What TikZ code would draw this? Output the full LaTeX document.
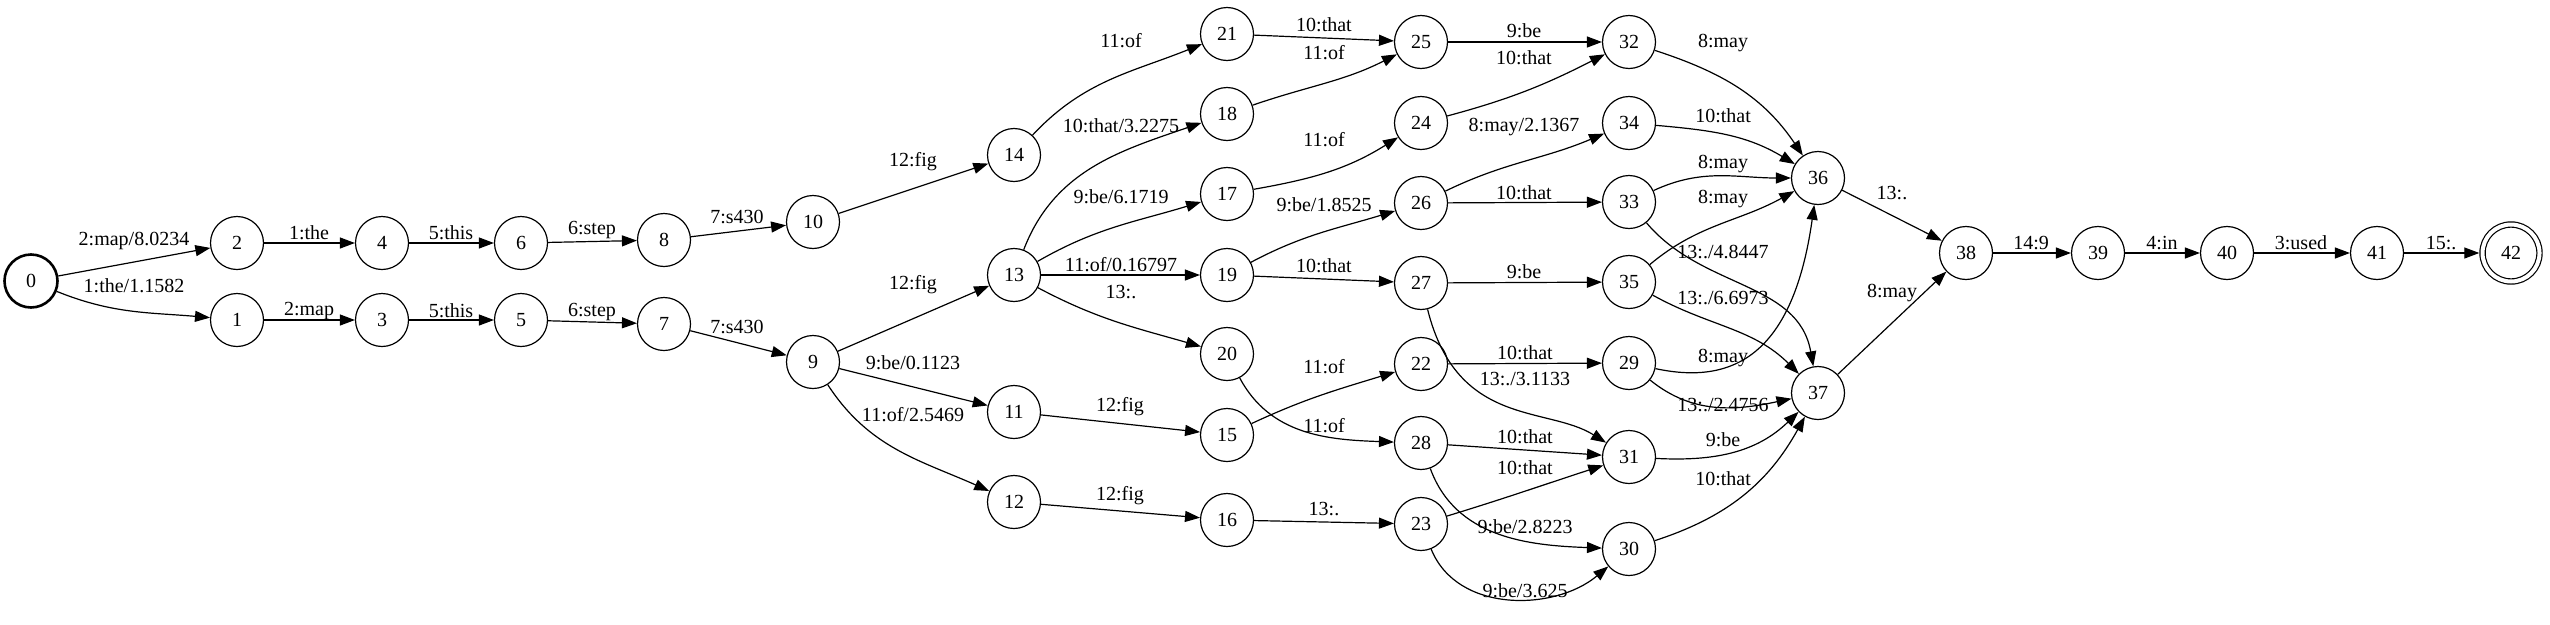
\documentclass[tikz,border=0pt]{standalone}
\usepackage{fontspec}
\setmainfont{Liberation Serif}
\usetikzlibrary{arrows.meta}
\begin{document}
\begin{tikzpicture}[x=1pt,y=1pt,
  st/.style={circle,draw,line width=1.2pt,minimum size=53pt,inner sep=0pt,font=\fontsize{20}{24}\selectfont},
  lbl/.style={inner sep=0pt,font=\fontsize{20}{24}\selectfont},
  e/.style={line width=1.2pt,-{Triangle[length=15pt,width=11pt]}}]
\useasboundingbox (0,0) rectangle (2550,-624);
% states
\node[st,line width=2.6pt] (n0) at (31,-281) {0};
\node[st] (n2) at (237,-243) {2};
\node[st] (n1) at (237,-320) {1};
\node[st] (n4) at (382,-243) {4};
\node[st] (n3) at (382,-320) {3};
\node[st] (n6) at (521,-243) {6};
\node[st] (n5) at (521,-320) {5};
\node[st] (n8) at (664,-240) {8};
\node[st] (n7) at (664,-324) {7};
\node[st] (n10) at (813,-222) {10};
\node[st] (n9) at (813,-362) {9};
\node[st] (n14) at (1014,-155) {14};
\node[st] (n13) at (1014,-275) {13};
\node[st] (n11) at (1014,-412) {11};
\node[st] (n12) at (1014,-502) {12};
\node[st] (n21) at (1227,-34) {21};
\node[st] (n18) at (1227,-114) {18};
\node[st] (n17) at (1227,-194) {17};
\node[st] (n19) at (1227,-275) {19};
\node[st] (n20) at (1227,-354) {20};
\node[st] (n15) at (1227,-435) {15};
\node[st] (n16) at (1227,-520) {16};
\node[st] (n25) at (1421,-42) {25};
\node[st] (n24) at (1421,-123) {24};
\node[st] (n26) at (1421,-203) {26};
\node[st] (n27) at (1421,-283) {27};
\node[st] (n22) at (1421,-364) {22};
\node[st] (n28) at (1421,-443) {28};
\node[st] (n23) at (1421,-524) {23};
\node[st] (n32) at (1629,-42) {32};
\node[st] (n34) at (1629,-123) {34};
\node[st] (n33) at (1629,-202) {33};
\node[st] (n35) at (1629,-282) {35};
\node[st] (n29) at (1629,-363) {29};
\node[st] (n31) at (1629,-457) {31};
\node[st] (n30) at (1629,-549) {30};
\node[st] (n36) at (1818,-178) {36};
\node[st] (n37) at (1818,-393) {37};
\node[st] (n38) at (1966,-253) {38};
\node[st] (n39) at (2098,-253) {39};
\node[st] (n40) at (2227,-253) {40};
\node[st] (n41) at (2377,-253) {41};
\node[st,double,double distance=4pt,minimum size=57pt,outer sep=3.2pt] (n42) at (2511,-253) {42};
% arcs
\draw[e] (n0) -- (n2);
\draw[e] (n0) to[out=-22,in=175] (n1);
\draw[e] (n2) -- (n4);
\draw[e] (n1) -- (n3);
\draw[e] (n4) -- (n6);
\draw[e] (n3) -- (n5);
\draw[e] (n6) -- (n8);
\draw[e] (n5) -- (n7);
\draw[e] (n8) -- (n10);
\draw[e] (n7) -- (n9);
\draw[e] (n10) -- (n14);
\draw[e] (n9) -- (n13);
\draw[e] (n9) -- (n11);
\draw[e] (n9) to[out=-57,in=156] (n12);
\draw[e] (n14) to[out=47,in=202] (n21);
\draw[e] (n13) to[out=69,in=199] (n18);
\draw[e] (n13) to[out=30,in=197] (n17);
\draw[e] (n13) -- (n19);
\draw[e] (n13) to[out=-28,in=164] (n20);
\draw[e] (n11) -- (n15);
\draw[e] (n12) -- (n16);
\draw[e] (n21) -- (n25);
\draw[e] (n18) to[out=19,in=207] (n25);
\draw[e] (n17) to[out=10,in=212] (n24);
\draw[e] (n19) to[out=28,in=197] (n26);
\draw[e] (n19) -- (n27);
\draw[e] (n15) to[out=25,in=197] (n22);
\draw[e] (n20) to[out=-62,in=178] (n28);
\draw[e] (n16) -- (n23);
\draw[e] (n25) -- (n32);
\draw[e] (n24) to[out=15,in=207] (n32);
\draw[e] (n26) to[out=26,in=203] (n34);
\draw[e] (n26) -- (n33);
\draw[e] (n27) -- (n35);
\draw[e] (n27) to[out=-76,in=148,out looseness=1.4,in looseness=0.8] (n31);
\draw[e] (n22) -- (n29);
\draw[e] (n28) -- (n31);
\draw[e] (n28) to[out=-70,in=178] (n30);
\draw[e] (n23) to[out=17,in=198] (n31);
\draw[e] (n23) to[out=-68,in=220] (n30);
\draw[e] (n32) to[out=-18,in=124] (n36);
\draw[e] (n34) to[out=-5,in=149] (n36);
\draw[e] (n33) to[out=25,in=180] (n36);
\draw[e] (n35) to[out=40,in=209] (n36);
\draw[e] (n33) to[out=-50,in=100] (n37);
\draw[e] (n35) to[out=-29,in=135] (n37);
\draw[e] (n29) to[out=-12,in=262,out looseness=0.8,in looseness=1.8] (n36);
\draw[e] (n29) to[out=-39,in=192] (n37);
\draw[e] (n31) to[out=-3,in=224] (n37);
\draw[e] (n30) to[out=18,in=241] (n37);
\draw[e] (n36) -- (n38);
\draw[e] (n37) -- (n38);
\draw[e] (n38) -- (n39);
\draw[e] (n39) -- (n40);
\draw[e] (n40) -- (n41);
\draw[e] (n41) -- (n42);
% labels
\node[lbl] (t0-2) at (134,-241) {2:map/8.0234};
\node[lbl] (t0-1) at (134,-286) {1:the/1.1582};
\node[lbl] (t2-4) at (309,-233) {1:the};
\node[lbl] (t1-3) at (309,-311) {2:map};
\node[lbl] (t4-6) at (451,-233) {5:this};
\node[lbl] (t3-5) at (451,-311) {5:this};
\node[lbl] (t6-8) at (592,-230) {6:step};
\node[lbl] (t5-7) at (592,-312) {6:step};
\node[lbl] (t8-10) at (737,-217) {7:s430};
\node[lbl] (t7-9) at (737,-327) {7:s430};
\node[lbl] (t10-14) at (913,-162) {12:fig};
\node[lbl] (t9-13) at (913,-285) {12:fig};
\node[lbl] (t9-11) at (913,-363) {9:be/0.1123};
\node[lbl] (t9-12) at (913,-415) {11:of/2.5469};
\node[lbl] (t14-21) at (1121,-41) {11:of};
\node[lbl] (t13-18) at (1121,-126) {10:that/3.2275};
\node[lbl] (t13-17) at (1121,-197) {9:be/6.1719};
\node[lbl] (t13-19) at (1121,-265) {11:of/0.16797};
\node[lbl] (t13-20) at (1121,-292) {13:.};
\node[lbl] (t11-15) at (1120,-407) {12:fig};
\node[lbl] (t12-16) at (1120,-496) {12:fig};
\node[lbl] (t21-25) at (1324,-25) {10:that};
\node[lbl] (t18-25) at (1324,-53) {11:of};
\node[lbl] (t17-24) at (1324,-140) {11:of};
\node[lbl] (t19-26) at (1324,-205) {9:be/1.8525};
\node[lbl] (t19-27) at (1324,-266) {10:that};
\node[lbl] (t15-22) at (1324,-367) {11:of};
\node[lbl] (t20-28) at (1324,-426) {11:of};
\node[lbl] (t16-23) at (1324,-509) {13:.};
\node[lbl] (t25-32) at (1524,-31) {9:be};
\node[lbl] (t24-32) at (1524,-58) {10:that};
\node[lbl] (t26-34) at (1524,-127) {8:may/2.1367};
\node[lbl] (t26-33) at (1524,-193) {10:that};
\node[lbl] (t27-35) at (1524,-272) {9:be};
\node[lbl] (t22-29) at (1525,-353) {10:that};
\node[lbl] (t27-31) at (1525,-379) {13:./3.1133};
\node[lbl] (t28-31) at (1525,-437) {10:that};
\node[lbl] (t23-31) at (1525,-468) {10:that};
\node[lbl] (t28-30) at (1525,-527) {9:be/2.8223};
\node[lbl] (t23-30) at (1525,-591) {9:be/3.625};
\node[lbl] (t32-36) at (1723,-43) {8:may};
\node[lbl] (t34-36) at (1723,-116) {10:that};
\node[lbl] (t33-36) at (1723,-164) {8:may};
\node[lbl] (t35-36) at (1723,-199) {8:may};
\node[lbl] (t33-37) at (1723,-252) {13:./4.8447};
\node[lbl] (t35-37) at (1723,-298) {13:./6.6973};
\node[lbl] (t29-36) at (1723,-358) {8:may};
\node[lbl] (t29-37) at (1723,-405) {13:./2.4756};
\node[lbl] (t31-37) at (1723,-440) {9:be};
\node[lbl] (t30-37) at (1723,-479) {10:that};
\node[lbl] (t36-38) at (1892,-193) {13:.};
\node[lbl] (t37-38) at (1892,-293) {8:may};
\node[lbl] (t38-39) at (2031,-243) {14:9};
\node[lbl] (t39-40) at (2162,-243) {4:in};
\node[lbl] (t40-41) at (2301,-243) {3:used};
\node[lbl] (t41-42) at (2441,-243) {15:.};
\end{tikzpicture}
\end{document}
